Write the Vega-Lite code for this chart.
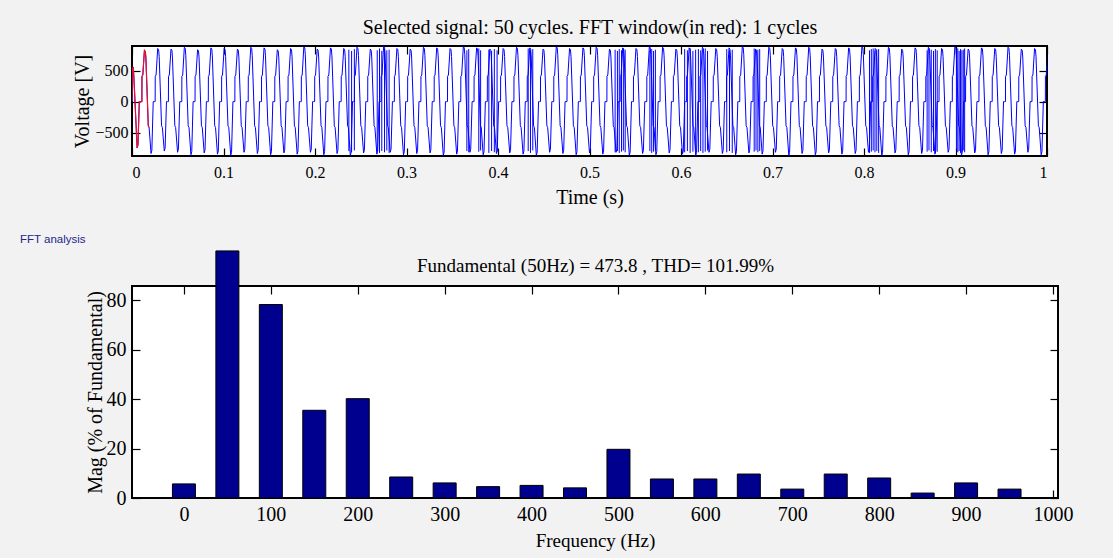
{
"$schema": "https://vega.github.io/schema/vega-lite/v6.json",
"background": "#f2f2f2",
"padding": {"left": 19, "top": 16, "right": 40, "bottom": 14},
"spacing": 24,
"config": {
  "view": {"fill": "white", "stroke": "black", "strokeWidth": 2},
  "axis": {"grid": false, "domain": false, "labelFont": "Liberation Serif", "titleFont": "Liberation Serif", "titleFontWeight": "normal", "labelColor": "black", "titleColor": "black", "tickColor": "black", "tickSize": -8, "tickWidth": 1.2, "labelPadding": 12}
},
"datasets": {
"sig": [
{"t":0,"v":0},{"t":0.3,"v":520},{"t":1.4,"v":560},{"t":2.1,"v":380},{"t":5.6,"v":-750},{"t":6.5,"v":-700},{"t":8.0,"v":0},
{"t":9.8,"v":0},{"t":10.8,"v":0},{"t":10.9,"v":410},{"t":11.8,"v":430},{"t":13.6,"v":830},{"t":14.6,"v":810},{"t":15.2,"v":700},{"t":17.8,"v":-390},{"t":18.7,"v":-420},{"t":20.8,"v":-840},{"t":21.7,"v":-790},{"t":23.2,"v":0},
{"t":24.3,"v":0},{"t":25.3,"v":0},{"t":25.4,"v":410},{"t":26.3,"v":430},{"t":28.1,"v":860},{"t":29.1,"v":840},{"t":29.7,"v":730},{"t":32.3,"v":-390},{"t":33.2,"v":-420},{"t":35.3,"v":-800},{"t":36.2,"v":-750},{"t":37.7,"v":0},
{"t":38.8,"v":0},{"t":39.8,"v":0},{"t":39.9,"v":410},{"t":40.8,"v":430},{"t":42.6,"v":850},{"t":43.6,"v":830},{"t":44.2,"v":720},{"t":46.8,"v":-390},{"t":47.7,"v":-420},{"t":49.8,"v":-820},{"t":50.7,"v":-770},{"t":52.2,"v":0},
{"t":53.4,"v":0},{"t":54.4,"v":0},{"t":54.5,"v":410},{"t":55.4,"v":430},{"t":57.2,"v":880},{"t":58.2,"v":860},{"t":58.8,"v":750},{"t":61.4,"v":-390},{"t":62.3,"v":-420},{"t":64.4,"v":-860},{"t":65.3,"v":-810},{"t":66.8,"v":0},
{"t":67.9,"v":0},{"t":68.9,"v":0},{"t":69.0,"v":410},{"t":69.9,"v":430},{"t":71.7,"v":840},{"t":72.7,"v":820},{"t":73.3,"v":710},{"t":75.9,"v":-390},{"t":76.8,"v":-420},{"t":78.9,"v":-830},{"t":79.8,"v":-780},{"t":81.3,"v":0},
{"t":82.4,"v":0},{"t":83.4,"v":0},{"t":83.5,"v":410},{"t":84.4,"v":430},{"t":86.2,"v":870},{"t":87.2,"v":850},{"t":87.8,"v":740},{"t":90.4,"v":-390},{"t":91.3,"v":-420},{"t":93.4,"v":-850},{"t":94.3,"v":-800},{"t":95.8,"v":0},
{"t":96.9,"v":0},{"t":97.9,"v":0},{"t":98.0,"v":410},{"t":98.9,"v":430},{"t":100.7,"v":860},{"t":101.7,"v":840},{"t":102.3,"v":730},{"t":104.9,"v":-390},{"t":105.8,"v":-420},{"t":107.9,"v":-870},{"t":108.8,"v":-820},{"t":110.3,"v":0},
{"t":111.4,"v":0},{"t":112.4,"v":0},{"t":112.5,"v":410},{"t":113.4,"v":430},{"t":115.2,"v":850},{"t":116.2,"v":830},{"t":116.8,"v":720},{"t":119.4,"v":-390},{"t":120.3,"v":-420},{"t":122.4,"v":-820},{"t":123.3,"v":-770},{"t":124.8,"v":0},
{"t":126.0,"v":0},{"t":127.0,"v":0},{"t":127.1,"v":410},{"t":128.0,"v":430},{"t":129.8,"v":880},{"t":130.8,"v":860},{"t":131.4,"v":750},{"t":134.0,"v":-390},{"t":134.9,"v":-420},{"t":137.0,"v":-840},{"t":137.9,"v":-790},{"t":139.4,"v":0},
{"t":140.5,"v":0},{"t":141.5,"v":0},{"t":141.6,"v":410},{"t":142.5,"v":430},{"t":144.3,"v":870},{"t":145.3,"v":850},{"t":145.9,"v":740},{"t":148.5,"v":-390},{"t":149.4,"v":-420},{"t":151.5,"v":-860},{"t":152.4,"v":-810},{"t":153.9,"v":0},
{"t":155.0,"v":0},{"t":156.0,"v":0},{"t":156.1,"v":410},{"t":157.0,"v":430},{"t":158.8,"v":840},{"t":159.8,"v":820},{"t":160.4,"v":710},{"t":163.0,"v":-390},{"t":163.9,"v":-420},{"t":166.0,"v":-830},{"t":166.9,"v":-780},{"t":168.4,"v":0},
{"t":169.5,"v":0},{"t":170.5,"v":0},{"t":170.6,"v":410},{"t":171.5,"v":430},{"t":173.3,"v":860},{"t":174.3,"v":840},{"t":174.9,"v":730},{"t":177.5,"v":-390},{"t":178.4,"v":-420},{"t":180.5,"v":-850},{"t":181.4,"v":-800},{"t":182.9,"v":0},
{"t":184.0,"v":0},{"t":185.0,"v":0},{"t":185.1,"v":410},{"t":186.0,"v":430},{"t":187.8,"v":890},{"t":188.8,"v":870},{"t":189.4,"v":760},{"t":192.0,"v":-390},{"t":192.9,"v":-420},{"t":195.0,"v":-820},{"t":195.9,"v":-770},{"t":197.4,"v":0},
{"t":198.6,"v":0},{"t":199.6,"v":0},{"t":199.7,"v":410},{"t":200.6,"v":430},{"t":202.4,"v":850},{"t":203.4,"v":830},{"t":204.0,"v":720},{"t":206.6,"v":-390},{"t":207.5,"v":-420},{"t":209.6,"v":-860},{"t":210.5,"v":-810},{"t":212.0,"v":0},
{"t":213.1,"v":0},{"t":214.1,"v":0},{"t":214.2,"v":410},{"t":215.1,"v":430},{"t":216.9,"v":870},{"t":217.9,"v":850},{"t":218.5,"v":740},{"t":221.1,"v":-390},{"t":222.0,"v":-420},{"t":224.1,"v":-840},{"t":225.0,"v":-790},{"t":226.5,"v":0},
{"t":227.6,"v":0},{"t":228.6,"v":0},{"t":228.7,"v":410},{"t":229.6,"v":430},{"t":231.4,"v":860},{"t":232.4,"v":840},{"t":233.0,"v":730},{"t":235.6,"v":-390},{"t":236.5,"v":-420},{"t":238.6,"v":-870},{"t":239.5,"v":-820},{"t":241.0,"v":0},
{"t":242.1,"v":0},{"t":243.1,"v":0},{"t":243.2,"v":410},{"t":244.1,"v":430},{"t":245.9,"v":880},{"t":246.9,"v":860},{"t":247.5,"v":750},{"t":250.1,"v":-390},{"t":251.0,"v":-420},{"t":253.1,"v":-830},{"t":254.0,"v":-780},{"t":255.5,"v":0},
{"t":256.6,"v":0},{"t":257.6,"v":0},{"t":257.7,"v":410},{"t":258.6,"v":430},{"t":260.4,"v":850},{"t":261.4,"v":830},{"t":262.0,"v":720},{"t":264.6,"v":-390},{"t":265.5,"v":-420},{"t":267.6,"v":-850},{"t":268.5,"v":-800},{"t":270.0,"v":0},
{"t":271.2,"v":0},{"t":272.2,"v":0},{"t":272.3,"v":410},{"t":273.2,"v":430},{"t":275.0,"v":900},{"t":276.0,"v":880},{"t":276.6,"v":770},{"t":279.2,"v":-390},{"t":280.1,"v":-420},{"t":282.2,"v":-820},{"t":283.1,"v":-770},{"t":284.6,"v":0},
{"t":285.7,"v":0},{"t":286.7,"v":0},{"t":286.8,"v":410},{"t":287.7,"v":430},{"t":289.5,"v":860},{"t":290.5,"v":840},{"t":291.1,"v":730},{"t":293.7,"v":-390},{"t":294.6,"v":-420},{"t":296.7,"v":-860},{"t":297.6,"v":-810},{"t":299.1,"v":0},
{"t":300.2,"v":0},{"t":301.2,"v":0},{"t":301.3,"v":410},{"t":302.2,"v":430},{"t":304.0,"v":850},{"t":305.0,"v":830},{"t":305.6,"v":720},{"t":308.2,"v":-390},{"t":309.1,"v":-420},{"t":311.2,"v":-840},{"t":312.1,"v":-790},{"t":313.6,"v":0},
{"t":314.7,"v":0},{"t":315.7,"v":0},{"t":315.8,"v":410},{"t":316.7,"v":430},{"t":318.5,"v":880},{"t":319.5,"v":860},{"t":320.1,"v":750},{"t":322.7,"v":-390},{"t":323.6,"v":-420},{"t":325.7,"v":-830},{"t":326.6,"v":-780},{"t":328.1,"v":0},
{"t":329.2,"v":0},{"t":330.2,"v":0},{"t":330.3,"v":410},{"t":331.2,"v":430},{"t":333.0,"v":870},{"t":334.0,"v":850},{"t":334.6,"v":740},{"t":337.2,"v":-390},{"t":338.1,"v":-420},{"t":340.2,"v":-870},{"t":341.1,"v":-820},{"t":342.6,"v":0},
{"t":343.8,"v":0},{"t":344.8,"v":0},{"t":344.9,"v":410},{"t":345.8,"v":430},{"t":347.6,"v":860},{"t":348.6,"v":840},{"t":349.2,"v":730},{"t":351.8,"v":-390},{"t":352.7,"v":-420},{"t":354.8,"v":-850},{"t":355.7,"v":-800},{"t":357.2,"v":0},
{"t":358.3,"v":0},{"t":359.3,"v":0},{"t":359.4,"v":410},{"t":360.3,"v":430},{"t":362.1,"v":890},{"t":363.1,"v":870},{"t":363.7,"v":760},{"t":366.3,"v":-390},{"t":367.2,"v":-420},{"t":369.3,"v":-820},{"t":370.2,"v":-770},{"t":371.7,"v":0},
{"t":372.8,"v":0},{"t":373.8,"v":0},{"t":373.9,"v":410},{"t":374.8,"v":430},{"t":376.6,"v":870},{"t":377.6,"v":850},{"t":378.2,"v":740},{"t":380.8,"v":-390},{"t":381.7,"v":-420},{"t":383.8,"v":-860},{"t":384.7,"v":-810},{"t":386.2,"v":0},
{"t":387.3,"v":0},{"t":388.3,"v":0},{"t":388.4,"v":410},{"t":389.3,"v":430},{"t":391.1,"v":850},{"t":392.1,"v":830},{"t":392.7,"v":720},{"t":395.3,"v":-390},{"t":396.2,"v":-420},{"t":398.3,"v":-840},{"t":399.2,"v":-790},{"t":400.7,"v":0},
{"t":401.8,"v":0},{"t":402.8,"v":0},{"t":402.9,"v":410},{"t":403.8,"v":430},{"t":405.6,"v":860},{"t":406.6,"v":840},{"t":407.2,"v":730},{"t":409.8,"v":-390},{"t":410.7,"v":-420},{"t":412.8,"v":-830},{"t":413.7,"v":-780},{"t":415.2,"v":0},
{"t":416.4,"v":0},{"t":417.4,"v":0},{"t":417.5,"v":410},{"t":418.4,"v":430},{"t":420.2,"v":880},{"t":421.2,"v":860},{"t":421.8,"v":750},{"t":424.4,"v":-390},{"t":425.3,"v":-420},{"t":427.4,"v":-850},{"t":428.3,"v":-800},{"t":429.8,"v":0},
{"t":430.9,"v":0},{"t":431.9,"v":0},{"t":432.0,"v":410},{"t":432.9,"v":430},{"t":434.7,"v":870},{"t":435.7,"v":850},{"t":436.3,"v":740},{"t":438.9,"v":-390},{"t":439.8,"v":-420},{"t":441.9,"v":-870},{"t":442.8,"v":-820},{"t":444.3,"v":0},
{"t":445.4,"v":0},{"t":446.4,"v":0},{"t":446.5,"v":410},{"t":447.4,"v":430},{"t":449.2,"v":850},{"t":450.2,"v":830},{"t":450.8,"v":720},{"t":453.4,"v":-390},{"t":454.3,"v":-420},{"t":456.4,"v":-820},{"t":457.3,"v":-770},{"t":458.8,"v":0},
{"t":459.9,"v":0},{"t":460.9,"v":0},{"t":461.0,"v":410},{"t":461.9,"v":430},{"t":463.7,"v":890},{"t":464.7,"v":870},{"t":465.3,"v":760},{"t":467.9,"v":-390},{"t":468.8,"v":-420},{"t":470.9,"v":-840},{"t":471.8,"v":-790},{"t":473.3,"v":0},
{"t":474.4,"v":0},{"t":475.4,"v":0},{"t":475.5,"v":410},{"t":476.4,"v":430},{"t":478.2,"v":860},{"t":479.2,"v":840},{"t":479.8,"v":730},{"t":482.4,"v":-390},{"t":483.3,"v":-420},{"t":485.4,"v":-860},{"t":486.3,"v":-810},{"t":487.8,"v":0},
{"t":489.0,"v":0},{"t":490.0,"v":0},{"t":490.1,"v":410},{"t":491.0,"v":430},{"t":492.8,"v":870},{"t":493.8,"v":850},{"t":494.4,"v":740},{"t":497.0,"v":-390},{"t":497.9,"v":-420},{"t":500.0,"v":-830},{"t":500.9,"v":-780},{"t":502.4,"v":0},
{"t":503.5,"v":0},{"t":504.5,"v":0},{"t":504.6,"v":410},{"t":505.5,"v":430},{"t":507.3,"v":880},{"t":508.3,"v":860},{"t":508.9,"v":750},{"t":511.5,"v":-390},{"t":512.4,"v":-420},{"t":514.5,"v":-850},{"t":515.4,"v":-800},{"t":516.9,"v":0},
{"t":518.0,"v":0},{"t":519.0,"v":0},{"t":519.1,"v":410},{"t":520.0,"v":430},{"t":521.8,"v":850},{"t":522.8,"v":830},{"t":523.4,"v":720},{"t":526.0,"v":-390},{"t":526.9,"v":-420},{"t":529.0,"v":-820},{"t":529.9,"v":-770},{"t":531.4,"v":0},
{"t":532.5,"v":0},{"t":533.5,"v":0},{"t":533.6,"v":410},{"t":534.5,"v":430},{"t":536.3,"v":870},{"t":537.3,"v":850},{"t":537.9,"v":740},{"t":540.5,"v":-390},{"t":541.4,"v":-420},{"t":543.5,"v":-870},{"t":544.4,"v":-820},{"t":545.9,"v":0},
{"t":547.0,"v":0},{"t":548.0,"v":0},{"t":548.1,"v":410},{"t":549.0,"v":430},{"t":550.8,"v":860},{"t":551.8,"v":840},{"t":552.4,"v":730},{"t":555.0,"v":-390},{"t":555.9,"v":-420},{"t":558.0,"v":-840},{"t":558.9,"v":-790},{"t":560.4,"v":0},
{"t":561.6,"v":0},{"t":562.6,"v":0},{"t":562.7,"v":410},{"t":563.6,"v":430},{"t":565.4,"v":890},{"t":566.4,"v":870},{"t":567.0,"v":760},{"t":569.6,"v":-390},{"t":570.5,"v":-420},{"t":572.6,"v":-860},{"t":573.5,"v":-810},{"t":575.0,"v":0},
{"t":576.1,"v":0},{"t":577.1,"v":0},{"t":577.2,"v":410},{"t":578.1,"v":430},{"t":579.9,"v":880},{"t":580.9,"v":860},{"t":581.5,"v":750},{"t":584.1,"v":-390},{"t":585.0,"v":-420},{"t":587.1,"v":-830},{"t":588.0,"v":-780},{"t":589.5,"v":0},
{"t":590.6,"v":0},{"t":591.6,"v":0},{"t":591.7,"v":410},{"t":592.6,"v":430},{"t":594.4,"v":850},{"t":595.4,"v":830},{"t":596.0,"v":720},{"t":598.6,"v":-390},{"t":599.5,"v":-420},{"t":601.6,"v":-850},{"t":602.5,"v":-800},{"t":604.0,"v":0},
{"t":605.1,"v":0},{"t":606.1,"v":0},{"t":606.2,"v":410},{"t":607.1,"v":430},{"t":608.9,"v":870},{"t":609.9,"v":850},{"t":610.5,"v":740},{"t":613.1,"v":-390},{"t":614.0,"v":-420},{"t":616.1,"v":-870},{"t":617.0,"v":-820},{"t":618.5,"v":0},
{"t":619.6,"v":0},{"t":620.6,"v":0},{"t":620.7,"v":410},{"t":621.6,"v":430},{"t":623.4,"v":880},{"t":624.4,"v":860},{"t":625.0,"v":750},{"t":627.6,"v":-390},{"t":628.5,"v":-420},{"t":630.6,"v":-820},{"t":631.5,"v":-770},{"t":633.0,"v":0},
{"t":634.2,"v":0},{"t":635.2,"v":0},{"t":635.3,"v":410},{"t":636.2,"v":430},{"t":638.0,"v":860},{"t":639.0,"v":840},{"t":639.6,"v":730},{"t":642.2,"v":-390},{"t":643.1,"v":-420},{"t":645.2,"v":-840},{"t":646.1,"v":-790},{"t":647.6,"v":0},
{"t":648.7,"v":0},{"t":649.7,"v":0},{"t":649.8,"v":410},{"t":650.7,"v":430},{"t":652.5,"v":870},{"t":653.5,"v":850},{"t":654.1,"v":740},{"t":656.7,"v":-390},{"t":657.6,"v":-420},{"t":659.7,"v":-860},{"t":660.6,"v":-810},{"t":662.1,"v":0},
{"t":663.2,"v":0},{"t":664.2,"v":0},{"t":664.3,"v":410},{"t":665.2,"v":430},{"t":667.0,"v":890},{"t":668.0,"v":870},{"t":668.6,"v":760},{"t":671.2,"v":-390},{"t":672.1,"v":-420},{"t":674.2,"v":-830},{"t":675.1,"v":-780},{"t":676.6,"v":0},
{"t":677.7,"v":0},{"t":678.7,"v":0},{"t":678.8,"v":410},{"t":679.7,"v":430},{"t":681.5,"v":850},{"t":682.5,"v":830},{"t":683.1,"v":720},{"t":685.7,"v":-390},{"t":686.6,"v":-420},{"t":688.7,"v":-850},{"t":689.6,"v":-800},{"t":691.1,"v":0},
{"t":692.2,"v":0},{"t":693.2,"v":0},{"t":693.3,"v":410},{"t":694.2,"v":430},{"t":696.0,"v":880},{"t":697.0,"v":860},{"t":697.6,"v":750},{"t":700.2,"v":-390},{"t":701.1,"v":-420},{"t":703.2,"v":-820},{"t":704.1,"v":-770},{"t":705.6,"v":0},
{"t":706.8,"v":0},{"t":707.8,"v":0},{"t":707.9,"v":410},{"t":708.8,"v":430},{"t":710.6,"v":860},{"t":711.6,"v":840},{"t":712.2,"v":730},{"t":714.8,"v":-390},{"t":715.7,"v":-420},{"t":717.8,"v":-870},{"t":718.7,"v":-820},{"t":720.2,"v":0},
{"t":721.3,"v":0},{"t":722.3,"v":0},{"t":722.4,"v":410},{"t":723.3,"v":430},{"t":725.1,"v":870},{"t":726.1,"v":850},{"t":726.7,"v":740},{"t":729.3,"v":-390},{"t":730.2,"v":-420},{"t":732.3,"v":-840},{"t":733.2,"v":-790},{"t":734.7,"v":0},
{"t":735.8,"v":0},{"t":736.8,"v":0},{"t":736.9,"v":410},{"t":737.8,"v":430},{"t":739.6,"v":880},{"t":740.6,"v":860},{"t":741.2,"v":750},{"t":743.8,"v":-390},{"t":744.7,"v":-420},{"t":746.8,"v":-860},{"t":747.7,"v":-810},{"t":749.2,"v":0},
{"t":750.3,"v":0},{"t":751.3,"v":0},{"t":751.4,"v":410},{"t":752.3,"v":430},{"t":754.1,"v":850},{"t":755.1,"v":830},{"t":755.7,"v":720},{"t":758.3,"v":-390},{"t":759.2,"v":-420},{"t":761.3,"v":-830},{"t":762.2,"v":-780},{"t":763.7,"v":0},
{"t":764.8,"v":0},{"t":765.8,"v":0},{"t":765.9,"v":410},{"t":766.8,"v":430},{"t":768.6,"v":860},{"t":769.6,"v":840},{"t":770.2,"v":730},{"t":772.8,"v":-390},{"t":773.7,"v":-420},{"t":775.8,"v":-850},{"t":776.7,"v":-800},{"t":778.2,"v":0},
{"t":779.4,"v":0},{"t":780.4,"v":0},{"t":780.5,"v":410},{"t":781.4,"v":430},{"t":783.2,"v":870},{"t":784.2,"v":850},{"t":784.8,"v":740},{"t":787.4,"v":-390},{"t":788.3,"v":-420},{"t":790.4,"v":-840},{"t":791.3,"v":-790},{"t":792.8,"v":0},
{"t":793.9,"v":0},{"t":794.9,"v":0},{"t":795.0,"v":410},{"t":795.9,"v":430},{"t":797.7,"v":890},{"t":798.7,"v":870},{"t":799.3,"v":760},{"t":801.9,"v":-390},{"t":802.8,"v":-420},{"t":804.9,"v":-820},{"t":805.8,"v":-770},{"t":807.3,"v":0},
{"t":808.4,"v":0},{"t":809.4,"v":0},{"t":809.5,"v":410},{"t":810.4,"v":430},{"t":812.2,"v":860},{"t":813.2,"v":840},{"t":813.8,"v":730},{"t":816.4,"v":-390},{"t":817.3,"v":-420},{"t":819.4,"v":-870},{"t":820.3,"v":-820},{"t":821.8,"v":0},
{"t":822.9,"v":0},{"t":823.9,"v":0},{"t":824.0,"v":410},{"t":824.9,"v":430},{"t":826.7,"v":880},{"t":827.7,"v":860},{"t":828.3,"v":750},{"t":830.9,"v":-390},{"t":831.8,"v":-420},{"t":833.9,"v":-830},{"t":834.8,"v":-780},{"t":836.3,"v":0},
{"t":837.4,"v":0},{"t":838.4,"v":0},{"t":838.5,"v":410},{"t":839.4,"v":430},{"t":841.2,"v":850},{"t":842.2,"v":830},{"t":842.8,"v":720},{"t":845.4,"v":-390},{"t":846.3,"v":-420},{"t":848.4,"v":-860},{"t":849.3,"v":-810},{"t":850.8,"v":0},
{"t":852.0,"v":0},{"t":853.0,"v":0},{"t":853.1,"v":410},{"t":854.0,"v":430},{"t":855.8,"v":870},{"t":856.8,"v":850},{"t":857.4,"v":740},{"t":860.0,"v":-390},{"t":860.9,"v":-420},{"t":863.0,"v":-840},{"t":863.9,"v":-790},{"t":865.4,"v":0},
{"t":866.5,"v":0},{"t":867.5,"v":0},{"t":867.6,"v":410},{"t":868.5,"v":430},{"t":870.3,"v":880},{"t":871.3,"v":860},{"t":871.9,"v":750},{"t":874.5,"v":-390},{"t":875.4,"v":-420},{"t":877.5,"v":-850},{"t":878.4,"v":-800},{"t":879.9,"v":0},
{"t":881.0,"v":0},{"t":882.0,"v":0},{"t":882.1,"v":410},{"t":883.0,"v":430},{"t":884.8,"v":860},{"t":885.8,"v":840},{"t":886.4,"v":730},{"t":889.0,"v":-390},{"t":889.9,"v":-420},{"t":892.0,"v":-820},{"t":892.9,"v":-770},{"t":894.4,"v":0},
{"t":895.5,"v":0},{"t":896.5,"v":0},{"t":896.6,"v":410},{"t":897.5,"v":430},{"t":899.3,"v":890},{"t":900.3,"v":870},{"t":900.9,"v":760},{"t":903.5,"v":-390},{"t":904.4,"v":-420},{"t":906.5,"v":-870},{"t":907.4,"v":-820},{"t":908.9,"v":0},
{"t":910.0,"v":0},{"t":911.0,"v":0},{"t":911.1,"v":410},{"t":912.0,"v":430},{"t":913.8,"v":850},{"t":914.8,"v":830},{"t":915.4,"v":720},{"t":918.0,"v":-390},{"t":918.9,"v":-420},{"t":921.0,"v":-830},{"t":921.9,"v":-780},{"t":923.4,"v":0},
{"t":924.6,"v":0},{"t":925.6,"v":0},{"t":925.7,"v":410},{"t":926.6,"v":430},{"t":928.4,"v":870},{"t":929.4,"v":850},{"t":930.0,"v":740},{"t":932.6,"v":-390},{"t":933.5,"v":-420},{"t":935.6,"v":-860},{"t":936.5,"v":-810},{"t":938.0,"v":0},
{"t":939.1,"v":0},{"t":940.1,"v":0},{"t":940.2,"v":410},{"t":941.1,"v":430},{"t":942.9,"v":860},{"t":943.9,"v":840},{"t":944.5,"v":730},{"t":947.1,"v":-390},{"t":948.0,"v":-420},{"t":950.1,"v":-840},{"t":951.0,"v":-790},{"t":952.5,"v":0},
{"t":953.6,"v":0},{"t":954.6,"v":0},{"t":954.7,"v":410},{"t":955.6,"v":430},{"t":957.4,"v":880},{"t":958.4,"v":860},{"t":959.0,"v":750},{"t":961.6,"v":-390},{"t":962.5,"v":-420},{"t":964.6,"v":-850},{"t":965.5,"v":-800},{"t":967.0,"v":0},
{"t":968.1,"v":0},{"t":969.1,"v":0},{"t":969.2,"v":410},{"t":970.1,"v":430},{"t":971.9,"v":850},{"t":972.9,"v":830},{"t":973.5,"v":720},{"t":976.1,"v":-390},{"t":977.0,"v":-420},{"t":979.1,"v":-820},{"t":980.0,"v":-770},{"t":981.5,"v":0},
{"t":982.6,"v":0},{"t":983.6,"v":0},{"t":983.7,"v":410},{"t":984.6,"v":430},{"t":986.4,"v":860},{"t":987.4,"v":840},{"t":988.0,"v":730},{"t":990.6,"v":-390},{"t":991.5,"v":-420},{"t":993.6,"v":-860},{"t":994.5,"v":-810},{"t":996.0,"v":0},
{"t":997.2,"v":0},{"t":998.2,"v":0},{"t":998.3,"v":410},{"t":999.2,"v":430},{"t":1001.0,"v":870}
],
"bursts": [
{"t":237,"lo":-800,"hi":840},{"t":240,"lo":-820,"hi":820},{"t":243,"lo":-790,"hi":850},
{"t":268,"lo":-810,"hi":830},{"t":270.5,"lo":-830,"hi":860},{"t":273,"lo":-800,"hi":820},{"t":276,"lo":-820,"hi":850},{"t":278.5,"lo":-790,"hi":830},{"t":281,"lo":-830,"hi":840},
{"t":366,"lo":-800,"hi":830},{"t":368,"lo":-820,"hi":850},
{"t":379,"lo":-810,"hi":860},{"t":381,"lo":-790,"hi":830},
{"t":390,"lo":-830,"hi":840},{"t":393,"lo":-800,"hi":820},{"t":396,"lo":-820,"hi":850},{"t":399,"lo":-810,"hi":830},
{"t":433,"lo":-800,"hi":860},{"t":435.5,"lo":-830,"hi":830},{"t":438,"lo":-790,"hi":850},
{"t":528,"lo":-820,"hi":840},{"t":530.5,"lo":-800,"hi":820},{"t":532.5,"lo":-830,"hi":850},{"t":535,"lo":-810,"hi":830},{"t":537,"lo":-790,"hi":860},{"t":539,"lo":-820,"hi":840},
{"t":566,"lo":-800,"hi":830},{"t":568,"lo":-830,"hi":850},{"t":570,"lo":-810,"hi":820},{"t":572,"lo":-790,"hi":840},
{"t":604,"lo":-820,"hi":850},{"t":607,"lo":-800,"hi":830},{"t":610,"lo":-830,"hi":860},{"t":613,"lo":-810,"hi":820},{"t":616,"lo":-790,"hi":840},{"t":619,"lo":-820,"hi":850},{"t":621.5,"lo":-800,"hi":830},{"t":624,"lo":-830,"hi":840},{"t":626.5,"lo":-810,"hi":860},{"t":629,"lo":-790,"hi":820},
{"t":650,"lo":-820,"hi":850},{"t":653,"lo":-800,"hi":830},{"t":656,"lo":-830,"hi":840},
{"t":680,"lo":-810,"hi":860},{"t":682,"lo":-790,"hi":820},{"t":684,"lo":-820,"hi":840},{"t":686,"lo":-800,"hi":850},
{"t":806,"lo":-830,"hi":830},{"t":808,"lo":-810,"hi":850},{"t":810,"lo":-790,"hi":860},{"t":812,"lo":-820,"hi":820},{"t":814,"lo":-800,"hi":840},{"t":816,"lo":-830,"hi":850},
{"t":869,"lo":-810,"hi":830},{"t":871,"lo":-790,"hi":860},{"t":873.5,"lo":-820,"hi":840},{"t":876,"lo":-800,"hi":820},{"t":878,"lo":-830,"hi":850},{"t":880,"lo":-810,"hi":830},
{"t":901,"lo":-790,"hi":840},{"t":902.5,"lo":-820,"hi":860},{"t":904,"lo":-800,"hi":820},{"t":905.5,"lo":-830,"hi":850},{"t":907,"lo":-810,"hi":830},{"t":908.5,"lo":-790,"hi":840},{"t":910,"lo":-820,"hi":860}
],
"fft": [
{"f":0,"m":5.7},{"f":50,"m":100},{"f":100,"m":78.3},{"f":150,"m":35.5},{"f":200,"m":40.2},{"f":250,"m":8.5},{"f":300,"m":6.1},{"f":350,"m":4.6},{"f":400,"m":5.1},{"f":450,"m":4.1},{"f":500,"m":19.7},{"f":550,"m":7.7},{"f":600,"m":7.7},{"f":650,"m":9.7},{"f":700,"m":3.6},{"f":750,"m":9.7},{"f":800,"m":8.1},{"f":850,"m":2.0},{"f":900,"m":6.1},{"f":950,"m":3.6}
]
},
"vconcat": [
{
  "width": 915, "height": 110,
  "layer": [
    {"data": {"name": "sig"},
     "mark": {"type": "line", "color": "#0000ff", "strokeWidth": 1, "clip": true},
     "encoding": {
       "x": {"field": "t", "type": "quantitative", "scale": {"domain": [0, 1000], "nice": false, "zero": false},
             "axis": {"orient": "bottom", "values": [0,100,200,300,400,500,600,700,800,900,1000], "labelExpr": "datum.value / 1000", "title": "Time (s)", "labelFontSize": 16, "labelPadding": 16, "titleFontSize": 20, "titlePadding": 7}},
       "y": {"field": "v", "type": "quantitative", "scale": {"domain": [-880, 900], "nice": false, "zero": false},
             "axis": {"orient": "left", "values": [-500, 0, 500], "title": "Voltage [V]", "labelFontSize": 16, "titleFontSize": 20, "titlePadding": 2}}
     }},
    {"data": {"name": "bursts"},
     "mark": {"type": "rule", "color": "#0000ff", "strokeWidth": 1, "clip": true},
     "encoding": {
       "x": {"field": "t", "type": "quantitative", "axis": null},
       "y": {"field": "lo", "type": "quantitative", "axis": null},
       "y2": {"field": "hi"}
     }},
    {"data": {"name": "sig"},
     "transform": [{"filter": {"field": "t", "lte": 19}}],
     "mark": {"type": "line", "color": "#e8102c", "strokeWidth": 1.2, "clip": true},
     "encoding": {
       "x": {"field": "t", "type": "quantitative",
             "axis": {"orient": "top", "labels": false, "values": [0,100,200,300,400,500,600,700,800,900,1000], "title": "Selected signal: 50 cycles. FFT window(in red): 1 cycles", "titleFontSize": 20, "titlePadding": 8}},
       "y": {"field": "v", "type": "quantitative",
             "axis": {"orient": "right", "labels": false, "values": [-500, 0, 500], "title": null}}
     }}
  ],
  "resolve": {"axis": {"x": "independent", "y": "independent"}}
},
{
  "width": 926, "height": 212,
  "title": {"text": "FFT analysis", "anchor": "start", "frame": "bounds", "font": "Liberation Sans", "fontSize": 11.5, "fontWeight": "normal", "color": "#24248c", "dx": -65, "offset": 5},
  "data": {"name": "fft"},
  "layer": [
    {"mark": {"type": "bar", "width": 23, "color": "#00008f", "stroke": "black", "strokeWidth": 1},
     "encoding": {
       "x": {"field": "f", "type": "quantitative", "scale": {"domain": [-54, 1000], "nice": false, "zero": false},
             "axis": {"orient": "bottom", "values": [0,100,200,300,400,500,600,700,800,900,1000], "format": "d", "title": "Frequency (Hz)", "labelFontSize": 20, "labelPadding": 14, "titleFontSize": 19, "titlePadding": 7}},
       "y": {"field": "m", "type": "quantitative", "scale": {"domain": [0, 85.8], "nice": false, "zero": true},
             "axis": {"orient": "left", "values": [0, 20, 40, 60, 80], "title": "Mag (% of Fundamental)", "labelFontSize": 20, "labelPadding": 14, "titleFontSize": 20, "titlePadding": 1}}
     }},
    {"mark": {"type": "bar", "width": 23, "opacity": 0},
     "encoding": {
       "x": {"field": "f", "type": "quantitative",
             "axis": {"orient": "top", "labels": false, "values": [0,100,200,300,400,500,600,700,800,900,1000], "title": "Fundamental (50Hz) = 473.8 , THD= 101.99%", "titleFontSize": 19, "titlePadding": 10}},
       "y": {"field": "m", "type": "quantitative",
             "axis": {"orient": "right", "labels": false, "values": [0, 20, 40, 60, 80], "title": null}}
     }}
  ],
  "resolve": {"axis": {"x": "independent", "y": "independent"}}
}
]
}
